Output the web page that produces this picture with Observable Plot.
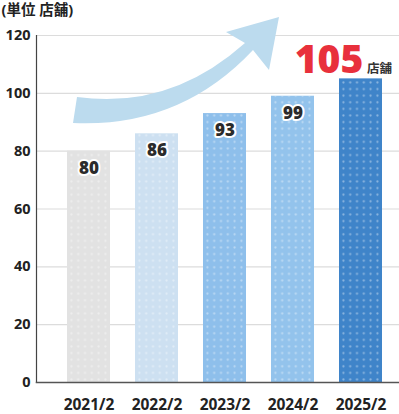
<!DOCTYPE html>
<html><head><meta charset="utf-8">
<script src="https://cdn.jsdelivr.net/npm/d3@7"></script>
<script src="https://cdn.jsdelivr.net/npm/@observablehq/plot@0.6"></script>
<style>body{margin:0;background:#fff;} #chart{position:relative;width:399px;height:414px;}</style>
</head><body><div id="chart"></div>
<script>
const years = ["2021/2", "2022/2", "2023/2", "2024/2", "2025/2"];
const stores = [80, 86, 93, 99, 105];
const barColors = ["#e2e2e2", "#cde0f1", "#8ebfeb", "#93c3ec", "#3f84c9"];
const yTicks = [0, 20, 40, 60, 80, 100, 120];
const unitLabel = "(単位 店舗)";
const unit = "店舗";

const data = years.map((y, i) => ({year: y, value: stores[i]}));
const font = "'Noto Sans', 'Noto Sans CJK JP', sans-serif";

function arrowMark(index, scales, values, dims) {
  const p = d3.create("svg:path")
    .attr("d", "M77,97 Q170,110 245,43 L226,32 L279,17 L269,70 L253,50 Q180,128 73,123 Z")
    .attr("fill", "#bcdbee");
  return p.node();
}

const chart = Plot.plot({
  width: 399, height: 414,
  marginTop: 35, marginBottom: 32, marginLeft: 36, marginRight: 0,
  style: {fontFamily: font, background: "white", overflow: "visible"},
  x: {domain: years, range: [36, 413], paddingInner: 0.37, paddingOuter: 0.45, label: null},
  y: {domain: [0, 120], label: null},
  color: {domain: years, range: barColors},
  marks: [
    Plot.ruleY(yTicks.filter(d => d > 0), {stroke: "#dcdcdc", strokeWidth: 1.2}),
    arrowMark,
    Plot.barY(data, {x: "year", y: "value", fill: "year"}),
    Plot.barY(data, {x: "year", y: "value", fill: "url(#dots)"}),
    Plot.frame({anchor: "left", stroke: "#444", strokeWidth: 1.2}),
    Plot.frame({anchor: "bottom", stroke: "#555", strokeWidth: 1.5}),
    Plot.axisY({ticks: yTicks, tickSize: 0, tickPadding: 6, fontSize: 14.5, fontWeight: "bold", fill: "#222", label: null}),
    Plot.axisX({tickSize: 0, tickPadding: 16, fontSize: 15.5, fontWeight: "bold", fill: "#222", label: null}),
    Plot.text(data.slice(0, 4), {x: "year", y: "value", text: d => String(d.value), dy: 17,
      fill: "#2b2b2b", stroke: "white", strokeWidth: 4, fontSize: 17, fontWeight: 900}),
    Plot.text(data.slice(4), {x: "year", y: "value", text: d => String(d.value), dx: -32, dy: -6,
      fill: "#e8303c", fontSize: 39, fontWeight: 900, lineAnchor: "bottom"}),
    Plot.text(data.slice(4), {x: "year", y: "value", text: () => unit, dx: 6, dy: -6,
      fill: "#333", fontSize: 12.5, fontWeight: "bold", textAnchor: "start", lineAnchor: "bottom"}),
    Plot.text([unitLabel], {frameAnchor: "top-left", dx: -35, dy: -25, text: d => d,
      fontSize: 14.5, fontWeight: "bold", fill: "#222", textAnchor: "start", lineAnchor: "middle"})
  ]
});

const defs = d3.select(chart).insert("defs", ":first-child");
const pat = defs.append("pattern").attr("id", "dots").attr("patternUnits", "userSpaceOnUse")
  .attr("width", 6.8).attr("height", 6.6);
pat.append("circle").attr("cx", 3.4).attr("cy", 3.3).attr("r", 1.1).attr("fill", "white").attr("fill-opacity", 0.4);

document.getElementById("chart").appendChild(chart);
</script></body></html>
